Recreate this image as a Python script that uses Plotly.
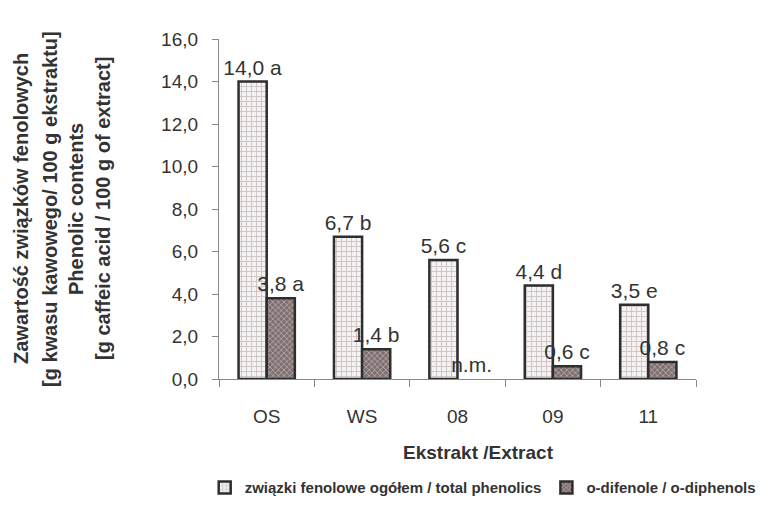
import plotly.graph_objects as go

categories = ["OS", "WS", "08", "09", "11"]
total_phenolics = [14.0, 6.7, 5.6, 4.4, 3.5]
total_labels = ["14,0 a", "6,7 b", "5,6 c", "4,4 d", "3,5 e"]
diphenols = [3.8, 1.4, 0.0, 0.6, 0.8]
diphenol_labels = ["3,8 a", "1,4 b", "n.m.", "0,6 c", "0,8 c"]
y_ticks = [0, 2, 4, 6, 8, 10, 12, 14, 16]

txt = "#333333"
font = "Liberation Sans, Arial, sans-serif"

L, T, W, H = 211, 31, 477, 344

fig = go.Figure()
fig.add_trace(go.Bar(
    x=categories, y=total_phenolics, text=total_labels,
    name="związki fenolowe ogółem / total phenolics",
    textposition="outside", cliponaxis=False, constraintext="none",
    textfont=dict(size=21, color=txt, family=font),
    marker=dict(color="#f2eeee",
                line=dict(color="#2e2e2e", width=2.5),
                pattern=dict(shape="+", fgcolor="#cfc5c5", bgcolor="#f4f2f2",
                             size=5, solidity=0.35, fillmode="replace")),
))
fig.add_trace(go.Bar(
    x=categories, y=diphenols, text=diphenol_labels,
    name="o-difenole / o-diphenols",
    textposition="outside", cliponaxis=False, constraintext="none",
    textfont=dict(size=21, color=txt, family=font),
    marker=dict(color="#7e7070",
                line=dict(color="#2e2e2e", width=[2.5, 2.5, 0, 2.5, 2.5]),
                pattern=dict(shape="x", fgcolor="#c4b8b8", bgcolor="#7e7070",
                             size=4, solidity=0.3, fillmode="replace")),
))

fig.update_layout(
    width=772, height=508,
    margin=dict(l=L, r=772 - L - W, t=T, b=508 - T - H),
    paper_bgcolor="white", plot_bgcolor="white",
    separators=", ",
    barmode="group", bargap=0.41, bargroupgap=0,
    font=dict(family=font, color=txt),
    showlegend=True,
    legend=dict(orientation="h", x=-0.03, xanchor="left", y=-0.32, yanchor="middle",
                font=dict(size=15, color=txt, family=font, weight="bold"),
                itemwidth=30, tracegroupgap=0, traceorder="normal"),
)
fig.update_xaxes(
    showline=True, linecolor="#888888", linewidth=1.2,
    ticks="outside", tickson="boundaries", ticklen=7, tickcolor="#888888",
    tickfont=dict(size=19, color=txt, family=font),
    ticklabelstandoff=20, showgrid=False,
)
fig.update_yaxes(
    range=[0, 16], tickvals=y_ticks, tickformat=".1f",
    showline=True, linecolor="#888888", linewidth=1.2,
    ticks="outside", ticklen=6, tickcolor="#888888",
    tickfont=dict(size=19, color=txt, family=font),
    ticklabelstandoff=10, showgrid=False, zeroline=False,
)

ytitle_lines = ["Zawartość związków fenolowych",
                "[g kwasu kawowego/ 100 g ekstraktu]",
                "Phenolic contents",
                "[g caffeic acid / 100 g of extract]"]
ytitle_px = [21, 50, 76, 103]
for line, px in zip(ytitle_lines, ytitle_px):
    fig.add_annotation(text="<b>" + line + "</b>", textangle=-90,
                       xref="paper", yref="paper",
                       x=(px - 219) / 477, y=0.5,
                       xanchor="center", yanchor="middle",
                       showarrow=False, font=dict(size=20, color=txt, family=font))

fig.add_annotation(text="<b>Ekstrakt /Extract</b>", xref="paper", yref="paper",
                   x=(478 - 219) / 477, y=-(457 - 383) / 344,
                   xanchor="center", yanchor="middle", showarrow=False,
                   font=dict(size=19, color=txt, family=font))

fig.write_html("out.html")
